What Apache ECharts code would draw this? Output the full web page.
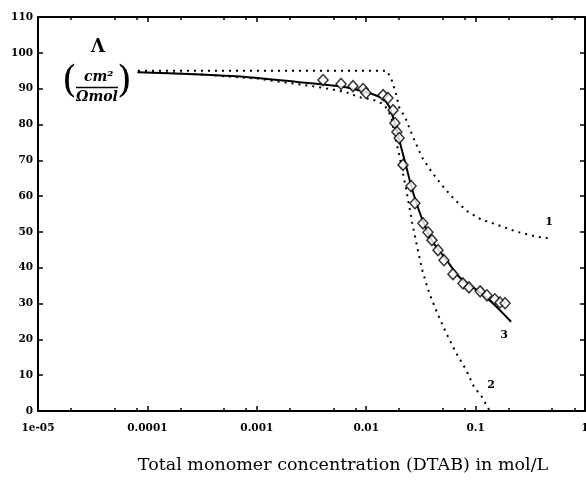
<!DOCTYPE html>
<html>
<head>
<meta charset="utf-8">
<script src="https://cdn.jsdelivr.net/npm/echarts@6/dist/echarts.min.js"></script>
<style>
  html, body { margin: 0; padding: 0; background: #fff; }
  #chart { width: 586px; height: 483px; }
</style>
</head>
<body>
<div id="chart"></div>
<script>
// axis ticks
var xMajorTicks = [1e-5, 1e-4, 1e-3, 1e-2, 1e-1, 1];
var xTickLabels = ['1e-05', '0.0001', '0.001', '0.01', '0.1', '1'];
var xMinorTicks = [2e-5, 5e-5, 8e-5, 2e-4, 5e-4, 8e-4, 2e-3, 5e-3, 8e-3, 2e-2, 5e-2, 8e-2, 0.2, 0.5, 0.8];

// curve 1 (dotted)
var curve1Conc = [8.2e-5, 0.0155, 0.01725, 0.0188, 0.0200, 0.0227, 0.0247, 0.0274, 0.0324, 0.0393, 0.0484, 0.0637, 0.0836, 0.112, 0.154, 0.234, 0.357, 0.50];
var curve1Cond = [95.0, 95.0, 92.1, 88.4, 84.8, 82.0, 79.2, 75.8, 70.8, 66.9, 63.3, 59.1, 55.8, 53.5, 52.1, 50.1, 48.7, 48.1];

// curve 2 (dotted)
var curve2Conc = [8.2e-5, 3e-4, 1e-3, 0.00321, 0.00489, 0.00656, 0.00863, 0.01135, 0.0146, 0.0169, 0.0180, 0.0200, 0.0232, 0.0263, 0.0292, 0.0324, 0.0376, 0.0445, 0.0538, 0.0664, 0.0818, 0.0968, 0.1145, 0.133];
var curve2Cond = [94.7, 94.0, 92.8, 90.7, 89.8, 89.0, 87.6, 87.0, 85.6, 82.3, 77.8, 71.6, 61.9, 52.6, 45.9, 39.5, 33.0, 27.4, 21.8, 16.2, 11.5, 6.7, 3.9, 0.3];

// curve 3 (solid fit)
var curve3Conc = [8.1e-5, 5.97e-4, 0.00244, 0.00489, 0.0070, 0.0100, 0.0140, 0.0162, 0.0180, 0.0200, 0.0232, 0.0263, 0.0318, 0.0393, 0.0538, 0.0706, 0.101, 0.142, 0.211];
var curve3Cond = [94.6, 93.5, 91.8, 90.9, 90.2, 89.0, 87.3, 85.1, 80.9, 75.8, 68.3, 61.9, 54.3, 47.9, 42.3, 37.5, 33.9, 30.2, 24.9];

// measured points (diamonds)
var measConc = [0.00403, 0.00589, 0.00757, 0.00935, 0.00996, 0.01426, 0.0158, 0.0176, 0.0183, 0.0191, 0.0200, 0.0217, 0.0257, 0.0279, 0.0330, 0.0367, 0.0399, 0.0453, 0.0514, 0.0621, 0.0767, 0.0871, 0.110, 0.127, 0.150, 0.167, 0.186];
var measCond = [92.4, 91.3, 90.7, 89.9, 88.8, 88.2, 87.4, 84.0, 80.4, 77.9, 76.2, 68.7, 62.8, 58.0, 52.4, 49.9, 47.7, 44.9, 42.1, 38.2, 35.6, 34.5, 33.4, 32.3, 31.2, 30.3, 30.1];

var FONT = 'DejaVu Serif';

function pairs(xs, ys, endLabel, offset) {
  return xs.map(function (x, i) {
    var p = { value: [x, ys[i]] };
    if (endLabel && i === xs.length - 1) {
      p.label = { show: true, formatter: endLabel, offset: offset, position: 'inside',
        fontFamily: FONT, fontWeight: 'bold', fontSize: 11, color: '#000' };
    }
    return p;
  });
}

function xAxisDef(pos, ticks, len, main) {
  return {
    type: 'log', logBase: 10, min: 1e-5, max: 1, position: pos, gridIndex: 0,
    axisLine: { show: main, lineStyle: { color: '#000', width: 2 } },
    axisTick: { show: true, inside: true, length: len, customValues: ticks, lineStyle: { color: '#000', width: 1.5 } },
    axisLabel: main && pos === 'bottom' ? {
      show: true, margin: 12, customValues: xMajorTicks,
      fontFamily: FONT, fontWeight: 'bold', fontSize: 10.5, color: '#000',
      formatter: function (v) { return xTickLabels[Math.round(Math.log10(v)) + 5]; }
    } : { show: false },
    splitLine: { show: false },
    minorTick: { show: false }
  };
}

function yAxisDef(pos, labels) {
  return {
    type: 'value', min: 0, max: 110, interval: 10, position: pos,
    axisLine: { show: true, lineStyle: { color: '#000', width: 2 } },
    axisTick: { show: true, inside: true, length: 5, lineStyle: { color: '#000', width: 1.5 } },
    axisLabel: labels ? { show: true, margin: 5, fontFamily: FONT, fontWeight: 'bold', fontSize: 10.5, color: '#000' } : { show: false },
    splitLine: { show: false }
  };
}

var dotted = { color: '#000', width: 2, type: [2, 5], cap: 'butt' };
// invisible symbols so the end-of-curve number labels can render
var hiddenSym = { showSymbol: true, symbol: 'circle', symbolSize: 0.01 };

var chart = echarts.init(document.getElementById('chart'), null, { renderer: 'canvas' });
chart.setOption({
  animation: false,
  backgroundColor: '#fff',
  grid: { left: 38, right: 1, top: 17, bottom: 72, outerBoundsMode: 'none', containLabel: false },
  xAxis: [
    xAxisDef('bottom', xMajorTicks, 5, true),
    xAxisDef('bottom', xMinorTicks, 3, false),
    xAxisDef('top', xMajorTicks, 5, true),
    xAxisDef('top', xMinorTicks, 3, false)
  ],
  yAxis: [yAxisDef('left', true), yAxisDef('right', false)],
  graphic: [
    { type: 'text', left: 91, top: 38, style: { text: 'Λ', fontFamily: FONT, fontWeight: 'bold', fontSize: 18, fill: '#000' } },
    { type: 'text', left: 62, top: 63, style: { text: '(', fontFamily: FONT, fontSize: 38, fill: '#000' } },
    { type: 'text', left: 117, top: 63, style: { text: ')', fontFamily: FONT, fontSize: 38, fill: '#000' } },
    { type: 'text', left: 84, top: 70, style: { text: 'cm²', fontFamily: FONT, fontStyle: 'italic', fontWeight: 'bold', fontSize: 14, fill: '#000' } },
    { type: 'line', shape: { x1: 76, y1: 87.5, x2: 118, y2: 87.5 }, style: { stroke: '#000', lineWidth: 1.5 } },
    { type: 'text', left: 76, top: 90, style: { text: 'Ωmol', fontFamily: FONT, fontStyle: 'italic', fontWeight: 'bold', fontSize: 14, fill: '#000' } },
    { type: 'text', x: 343, y: 456, style: { text: 'Total monomer concentration (DTAB) in mol/L', textAlign: 'center', fontFamily: FONT, fontSize: 17.5, fill: '#000' } }
  ],
  series: [
    Object.assign({ name: '1', type: 'line', lineStyle: dotted,
      data: pairs(curve1Conc, curve1Cond, '1', [-3, -17]), z: 2 }, hiddenSym),
    Object.assign({ name: '2', type: 'line', lineStyle: dotted,
      data: pairs(curve2Conc, curve2Cond, '2', [2, -25]), z: 2 }, hiddenSym),
    Object.assign({ name: '3', type: 'line', smooth: 0.3,
      lineStyle: { color: '#000', width: 2 },
      data: pairs(curve3Conc, curve3Cond, '3', [-7, 13]), z: 3 }, hiddenSym),
    { name: 'measured', type: 'scatter', symbol: 'diamond', symbolSize: [10, 11],
      itemStyle: { color: '#fff', borderColor: '#000', borderWidth: 1.5 },
      data: pairs(measConc, measCond), z: 4 }
  ]
});
</script>
</body>
</html>
